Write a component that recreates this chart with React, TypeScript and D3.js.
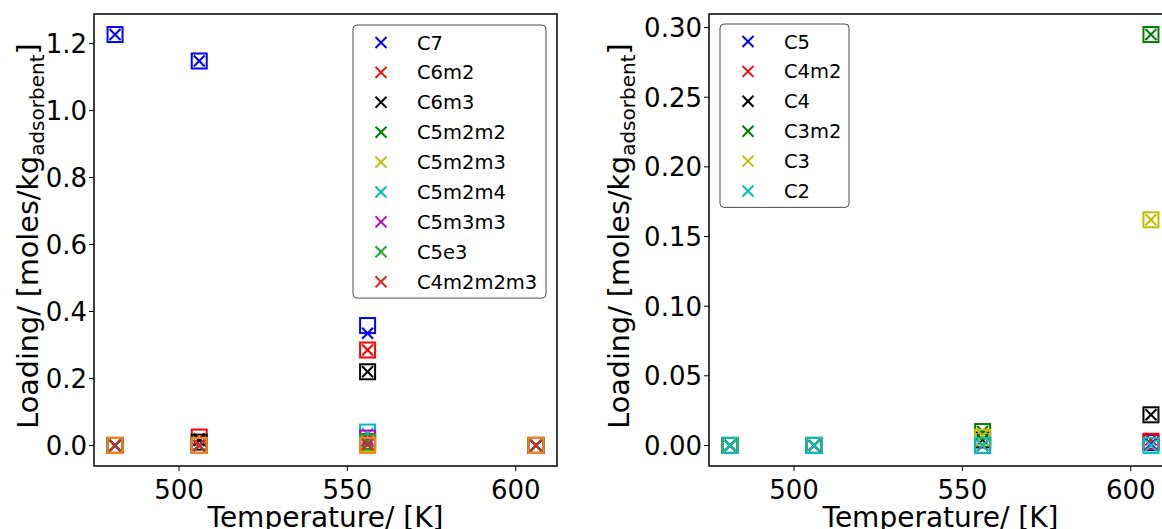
import React from "react";
import * as d3 from "d3";

// temperatures [K] at which loadings were measured / simulated
const temps = [481, 506, 556, 606];
const xTicks = [500, 550, 600];

// left panel: C7 isomers
const leftNames = ["C7", "C6m2", "C6m3", "C5m2m2", "C5m2m3", "C5m2m4", "C5m3m3", "C5e3", "C4m2m2m3"];
const leftColors = ["#0000ff", "#ff0000", "#000000", "#008000", "#bfbf00", "#00bfbf", "#bf00bf", "#2ca02c", "#d62728"];
const leftSquareColors = ["#0000ff", "#ff0000", "#000000", "#008000", "#bfbf00", "#00bfbf", "#bf00bf", "#2ca02c", "#ff7f0e"];
const leftSquares = [
  [1.227, 1.148, 0.358, 0.0],
  [0.0, 0.025, 0.285, 0.0],
  [0.0, 0.01, 0.22, 0.0],
  [0.0, 0.0, 0.012, 0.0],
  [0.0, 0.0, 0.006, 0.0],
  [0.0, 0.0, 0.04, 0.0],
  [0.0, 0.0, 0.022, 0.0],
  [0.0, 0.0, 0.01, 0.0],
  [0.0, 0.0, 0.0, 0.0],
];
const leftCrosses = [
  [1.227, 1.148, 0.335, 0.0],
  [0.0, 0.02, 0.285, 0.0],
  [0.0, 0.015, 0.22, 0.0],
  [0.0, 0.0, 0.012, 0.0],
  [0.0, 0.0, 0.006, 0.0],
  [0.0, 0.0, 0.035, 0.0],
  [0.0, 0.0, 0.02, 0.0],
  [0.0, 0.0, 0.01, 0.0],
  [0.0, 0.0, 0.002, 0.0],
];
const leftYTicks = [0, 0.2, 0.4, 0.6, 0.8, 1.0, 1.2];

// right panel: lighter products
const rightNames = ["C5", "C4m2", "C4", "C3m2", "C3", "C2"];
const rightColors = ["#0000ff", "#ff0000", "#000000", "#008000", "#bfbf00", "#00bfbf"];
const rightSquares = [
  [0.0, 0.0, 0.0, 0.002],
  [0.0, 0.0, 0.0, 0.003],
  [0.0, 0.0, 0.004, 0.022],
  [0.0, 0.0, 0.01, 0.295],
  [0.0, 0.0, 0.006, 0.162],
  [0.0, 0.0, 0.0, 0.0],
];
const rightCrosses = [
  [0.0, 0.0, 0.0, 0.001],
  [0.0, 0.0, 0.0, 0.004],
  [0.0, 0.0, 0.004, 0.022],
  [0.0, 0.0, 0.01, 0.295],
  [0.0, 0.0, 0.007, 0.162],
  [0.0, 0.0, 0.0, 0.0],
];
const rightYTicks = [0, 0.05, 0.1, 0.15, 0.2, 0.25, 0.3];

const FONT = "DejaVu Sans, sans-serif";

// matplotlib style 5% margins
const padExtent = (vals: number[]) => {
  const [lo, hi] = d3.extent(vals) as [number, number];
  const m = (hi - lo) * 0.05;
  return [lo - m, hi + m];
};

const Cross = ({ cx, cy, size, color }) => (
  <g stroke={color} strokeWidth={2}>
    <line x1={cx - size / 2} y1={cy - size / 2} x2={cx + size / 2} y2={cy + size / 2} />
    <line x1={cx - size / 2} y1={cy + size / 2} x2={cx + size / 2} y2={cy - size / 2} />
  </g>
);

const Panel = ({ left, top, width, height, names, colors, squareColors, squares, crosses, yTicks, yFmt, legend }) => {
  const x = d3.scaleLinear().domain(padExtent(temps)).range([0, width]);
  const y = d3.scaleLinear().domain(padExtent([...squares.flat(), ...crosses.flat()])).range([height, 0]);
  const rowH = 29.9;

  return (
    <g transform={`translate(${left}, ${top})`} fontFamily={FONT}>
      {names.map((n, i) => (
        <g key={n}>
          {squares[i].map((v, j) => (
            <rect key={"s" + j} x={x(temps[j]) - 7.5} y={y(v) - 7.5} width={15} height={15}
              fill="none" stroke={squareColors[i]} strokeWidth={2} />
          ))}
          {crosses[i].map((v, j) => (
            <Cross key={"c" + j} cx={x(temps[j])} cy={y(v)} size={11} color={colors[i]} />
          ))}
        </g>
      ))}
      <rect width={width} height={height} fill="none" stroke="black" strokeWidth={1.5} />
      {xTicks.map(t => (
        <g key={t} transform={`translate(${x(t)}, ${height})`}>
          <line y2={5} stroke="black" strokeWidth={1} />
          <text y={33} textAnchor="middle" fontSize={26}>{t}</text>
        </g>
      ))}
      {yTicks.map(t => (
        <g key={t} transform={`translate(0, ${y(t)})`}>
          <line x2={-5} stroke="black" strokeWidth={1} />
          <text x={-7} dy="0.36em" textAnchor="end" fontSize={26}>{yFmt(t)}</text>
        </g>
      ))}
      <text x={width / 2} y={height + 61} textAnchor="middle" fontSize={28}>Temperature/ [K]</text>
      <text transform={`translate(${legend.labelX}, ${height / 2 - 4}) rotate(-90)`} textAnchor="middle" fontSize={28.6}>
        Loading/ [moles/kg<tspan fontSize={20} dy={6}>adsorbent</tspan><tspan dy={-6}>]</tspan>
      </text>
      <g transform={`translate(${legend.x}, ${legend.y})`}>
        <rect width={legend.w} height={names.length * rowH + 4} rx={4} fill="white"
          stroke="#4d4d4d" strokeWidth={1} />
        {names.map((n, i) => (
          <g key={n} transform={`translate(0, ${17.5 + i * rowH})`}>
            <Cross cx={28} cy={0} size={11} color={colors[i]} />
            <text x={64} dy="0.36em" fontSize={19.5}>{n}</text>
          </g>
        ))}
      </g>
    </g>
  );
};

export default function App() {
  return (
    <svg width={1162} height={529} style={{ position: "absolute", left: 0, top: 0, background: "white" }}>
      <Panel left={94} top={14} width={463} height={452}
        names={leftNames} colors={leftColors} squareColors={leftSquareColors}
        squares={leftSquares} crosses={leftCrosses} yTicks={leftYTicks} yFmt={d3.format(".1f")}
        legend={{ x: 259, y: 11, w: 193, labelX: -56 }} />
      <Panel left={709} top={14} width={463} height={452}
        names={rightNames} colors={rightColors} squareColors={rightColors}
        squares={rightSquares} crosses={rightCrosses} yTicks={rightYTicks} yFmt={d3.format(".2f")}
        legend={{ x: 11, y: 10, w: 129, labelX: -80 }} />
    </svg>
  );
}
